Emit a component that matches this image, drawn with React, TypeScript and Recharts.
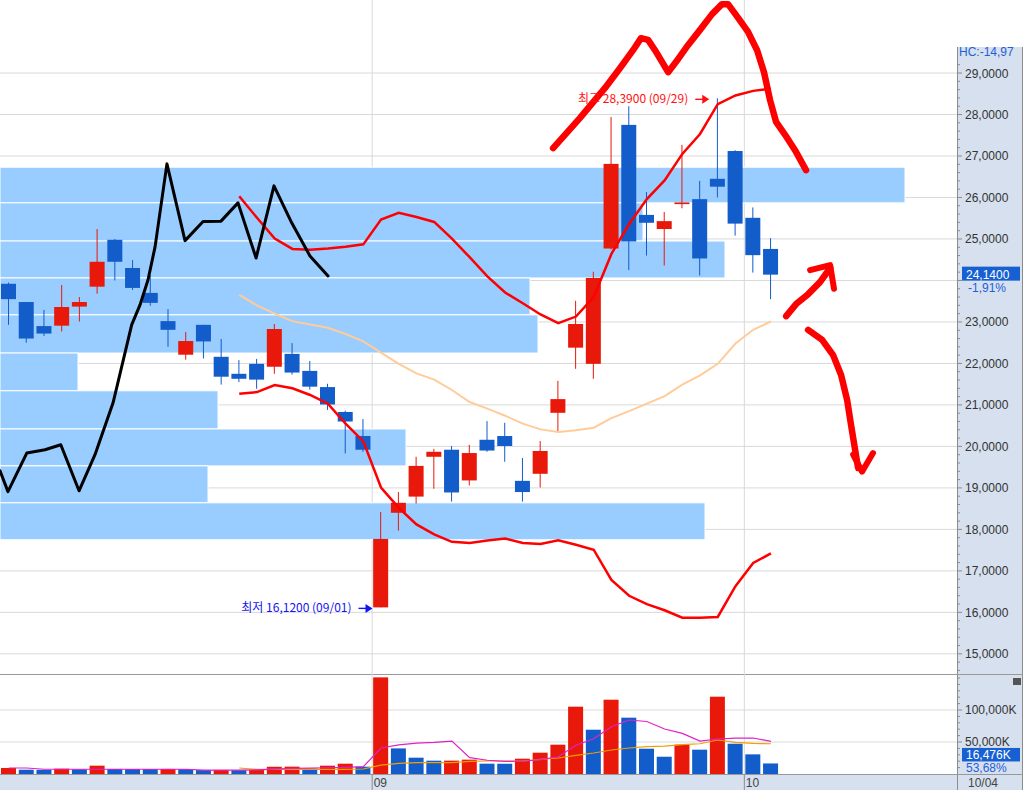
import React from "react";
import {
  ComposedChart,
  Bar,
  Line,
  XAxis,
  YAxis,
  CartesianGrid,
  ReferenceArea,
  ReferenceDot,
} from "recharts";

// trading days (2021)
const dates = [
  "08/03", "08/04", "08/05", "08/06", "08/09", "08/10", "08/11", "08/12", "08/13", "08/16", "08/17",
  "08/18", "08/19", "08/20", "08/23", "08/24", "08/25", "08/26", "08/27", "08/30", "08/31",
  "09/01", "09/02", "09/03", "09/07", "09/08", "09/09", "09/10", "09/13", "09/14", "09/15", "09/16",
  "09/17", "09/20", "09/21", "09/22", "09/23", "09/24", "09/27", "09/28", "09/29", "09/30",
  "10/01", "10/04",
];

const opens = [
  23.92, 23.48, 22.9, 22.91, 23.37, 23.85, 24.98, 24.3, 23.7, 23.02, 22.21, 22.93, 22.16, 21.75, 21.99,
  21.92, 22.23, 21.82, 21.43, 20.83, 20.25, 16.12, 18.4, 18.79, 19.75, 19.92, 19.18, 20.16, 20.25, 19.17,
  19.34, 20.81, 22.38, 21.99, 24.77, 27.75, 25.58, 25.24, 25.84, 25.96, 26.45, 27.12, 25.51, 24.76,
];
const highs = [
  23.95, 23.48, 23.29, 23.89, 23.6, 25.24, 25.0, 24.49, 24.13, 23.31, 22.76, 22.93, 22.59, 22.08, 22.11,
  22.95, 22.49, 22.06, 21.51, 20.86, 20.66, 18.42, 18.9, 19.75, 19.94, 20.01, 20.04, 20.61, 20.57, 19.72,
  20.13, 21.58, 23.51, 24.21, 27.94, 28.2, 26.13, 25.65, 27.27, 26.4, 28.39, 27.14, 25.76, 25.02,
];
const lows = [
  22.93, 22.5, 22.66, 22.77, 23.01, 23.68, 24.0, 23.77, 23.39, 22.4, 22.09, 22.12, 21.49, 21.55, 21.39,
  21.75, 21.73, 21.37, 20.88, 19.83, 19.87, 16.12, 17.97, 18.62, 18.98, 18.67, 19.06, 19.87, 19.63, 18.67,
  19.01, 20.33, 21.87, 21.63, 24.75, 24.25, 24.6, 24.36, 25.74, 24.12, 26.0, 25.08, 24.19, 23.55,
];
const closes = [
  23.55, 22.6, 22.72, 23.36, 23.48, 24.45, 24.45, 23.82, 23.46, 22.81, 22.54, 22.53, 21.68, 21.63, 21.61,
  22.83, 21.78, 21.44, 21.01, 20.6, 19.92, 17.77, 18.64, 19.53, 19.87, 18.89, 19.84, 19.9, 20.01, 18.9,
  19.89, 21.14, 22.95, 24.06, 26.81, 24.94, 25.39, 25.43, 25.88, 24.53, 26.26, 25.37, 24.61, 24.14,
];

// volume, K
const volumes = [
  9400, 6700, 6500, 8300, 7300, 13000, 7900, 7800, 7700, 7900, 7600, 6100, 6300, 6000, 6200, 11300, 11500,
  8300, 13000, 16100, 11400, 151000, 40000, 25500, 20800, 20900, 22400, 16100, 16000, 23900, 33300, 45800,
  105200, 69200, 116100, 88000, 39500, 27000, 45800, 38000, 120800, 47300, 30694, 16476,
];

const N13 = [null, null, null, null, null, null, null, null, null, null, null, null, null];

const bollUpper = [
  ...N13,
  26.03, 25.51, 25.01, 24.76, 24.74, 24.77, 24.81, 24.87, 25.47, 25.63, 25.53, 25.41, 25.01, 24.56, 24.1,
  23.71, 23.45, 23.18, 22.97, 23.13, 23.6, 24.64, 25.36, 25.96, 26.41, 27.05, 27.53, 28.25, 28.46, 28.57, 28.62,
];
const bollMid = [
  ...N13,
  23.65, 23.4, 23.2, 23.02, 22.94, 22.86, 22.71, 22.53, 22.26, 21.99, 21.76, 21.61, 21.36, 21.07, 20.91,
  20.74, 20.55, 20.41, 20.35, 20.39, 20.45, 20.68, 20.85, 21.03, 21.21, 21.49, 21.71, 21.99, 22.48, 22.81, 23.01,
];
const bollLower = [
  ...N13,
  21.27, 21.31, 21.48, 21.4, 21.24, 21.03, 20.55, 20.12, 19.01, 18.52, 18.12, 17.88, 17.7, 17.67, 17.73,
  17.78, 17.67, 17.65, 17.74, 17.63, 17.51, 16.78, 16.4, 16.2, 16.05, 15.87, 15.87, 15.89, 16.63, 17.19, 17.42,
];

const volMa5 = [
  9400, 9400, 7400, 7400, 7400, 7400, 7400, 7400, 7400, 7400, 7400, 6200, 6200, 6200, 6600, 7600, 8800,
  9200, 9800, 10400, 11400, 40600, 45500, 48300, 49300, 51500, 25500, 21500, 19800, 19900, 22400, 27000,
  44900, 55000, 73900, 84400, 82000, 70300, 63400, 51500, 54700, 56200, 56200, 51000,
];
const volMa20 = [
  ...N13,
  9400, 7200, 7200, 7200, 7200, 7200, 7200, 7800, 14000, 16600, 17700, 17700, 17700, 19700, 20300, 20300,
  20300, 22800, 25000, 29100, 32800, 37500, 40600, 42700, 43700, 45800, 47300, 53100, 49400, 47800, 47300,
];

// volume-at-price bands (price edges top→bottom, volume per band)
const profileEdges = [26.73, 25.87, 24.95, 24.06, 23.17, 22.25, 21.34, 20.42, 19.53, 18.64, 17.75];
const profileVolumes = [452500, 321500, 362500, 265000, 269000, 39000, 109000, 203000, 104000, 352500];

const priceLabels = [15, 16, 17, 18, 19, 20, 21, 22, 23, 24, 25, 26, 27, 28, 29];
const volLabels = [50000, 100000];
const hcValue = -14.97;

// hand drawn strokes: [slot, price]
const drawBlack = [
  [0, 19.41], [0.45, 18.91], [1.51, 19.84], [2.54, 19.92], [3.43, 20.04], [4.46, 18.93], [5.36, 19.8],
  [6.38, 21.05], [7.43, 22.93], [7.9, 23.41], [8.35, 24.01], [8.75, 24.81], [9.42, 26.81], [10.44, 24.96],
  [11.46, 25.42], [12.47, 25.43], [13.43, 25.87], [14.45, 24.54], [15.46, 26.28], [16.46, 25.39],
  [17.49, 24.59], [18.51, 24.11],
];
const drawArc = [
  [31.21, 27.19], [32.73, 27.92], [34.14, 28.64], [34.99, 29.12], [35.72, 29.55], [36.17, 29.84],
  [36.57, 29.8], [36.96, 29.55], [37.7, 29.02], [38.15, 29.27], [38.82, 29.67], [39.5, 30.04],
  [40.18, 30.42], [40.74, 30.66], [41.08, 30.66], [41.65, 30.33], [42.21, 29.99], [42.72, 29.55],
  [43.11, 29.02], [43.45, 28.35], [43.79, 27.82], [44.3, 27.51], [44.86, 27.14], [45.48, 26.66],
];
const drawUp = [[44.36, 23.14], [44.92, 23.43], [45.6, 23.67], [46.27, 23.96], [46.84, 24.3]];
const drawUpHead = [[45.71, 24.25], [46.84, 24.37], [47.06, 23.8]];
const drawDown = [
  [45.6, 22.81], [46.39, 22.57], [47.01, 22.2], [47.46, 21.72], [47.8, 21.12], [48.02, 20.52],
  [48.25, 19.92], [48.42, 19.48],
];
const drawDownHead = [[48.14, 19.8], [48.64, 19.39], [49.26, 19.84]];

const SLOTS = 54;
const PLOT_W = 957;
const SLOT_W = PLOT_W / SLOTS;
const P_DOMAIN = [14.49, 30.76];
const V_DOMAIN = [0, 154700];
const PROFILE_MAX = 478500;
const RED = "#e8190b";
const BLUE = "#135dcb";
const AXIS_BG = "#d6e0ee";
const FONT = "'Liberation Sans', Arial, sans-serif";
const KFONT = "'Noto Sans CJK KR', 'Noto Sans', sans-serif";

const rows = Array.from({ length: SLOTS }, (_, i) => {
  if (i >= dates.length) return { d: `+${i}` };
  return {
    d: dates[i],
    o: opens[i],
    h: highs[i],
    l: lows[i],
    c: closes[i],
    range: [lows[i], highs[i]],
    bu: bollUpper[i],
    bm: bollMid[i],
    bl: bollLower[i],
    v: volumes[i],
    vUp: i === 0 || volumes[i] > volumes[i - 1],
    m5: volMa5[i],
    m20: volMa20[i],
  };
});

// carrier rows so the volume-at-price axis gets a scale
const profileRows = profileVolumes.map((pv, i) => ({ pv, pm: (profileEdges[i] + profileEdges[i + 1]) / 2 }));

const monthStarts = dates
  .map((d, i) => (i > 0 && d.slice(0, 2) !== dates[i - 1].slice(0, 2) ? i : -1))
  .filter((i) => i >= 0);
const monthStartDates = monthStarts.map((i) => dates[i]);

const last = dates.length - 1;
const lastClose = closes[last];
const lastVol = volumes[last];
const hiIdx = highs.indexOf(Math.max(...highs));
const loIdx = lows.indexOf(Math.min(...lows));

const fmt4 = (v: number) => v.toFixed(4).replace(".", ",");
const fmtPct = (v: number) => v.toFixed(2).replace(".", ",") + "%";
const fmtK = (v: number) => Math.round(v).toLocaleString("en-US") + "K";

const priceTicks: number[] = [];
for (let k = 73; k <= 146; k++) priceTicks.push(k / 5);
priceTicks.push(lastClose);
const volTicks: number[] = [];
for (let k = 1; k <= 15; k++) volTicks.push(k * 10000);
volTicks.push(lastVol);

const pts = (a: number[][]) => a.map(([sx, py]) => ({ sx, py }));

function Candle(props: any) {
  const { x, y, width, height, payload } = props;
  if (!payload || payload.o == null) return null;
  const { o, h, l, c } = payload;
  const span = h - l || 1;
  const py = (v: number) => y + ((h - v) / span) * height;
  const color = c >= o ? RED : BLUE;
  const cx = x + width / 2;
  const top = py(Math.max(o, c));
  const bot = py(Math.min(o, c));
  return (
    <g>
      <rect x={cx - 0.5} y={y} width={1} height={height} fill={color} />
      <rect x={x} y={top} width={width} height={Math.max(bot - top, 1.6)} fill={color} />
    </g>
  );
}

function VolumeBar(props: any) {
  const { x, y, width, height, payload } = props;
  if (!payload || payload.v == null) return null;
  return <rect x={x} y={y} width={width} height={height} fill={payload.vUp ? RED : BLUE} />;
}

function PriceTick(props: any) {
  const { x, y, payload } = props;
  const v = Number(payload.value);
  if (v === lastClose) {
    const pct = ((lastClose - closes[last - 1]) / closes[last - 1]) * 100;
    return (
      <g fontFamily={FONT} fontSize={12}>
        <rect x={x + 5} y={y - 8} width={58} height={14} fill="#1660d2" />
        <text x={x + 9} y={y + 4} fill="#ffffff">{fmt4(v)}</text>
        <text x={x + 11} y={y + 17} fill="#1f5fd8">{fmtPct(pct)}</text>
      </g>
    );
  }
  // labels next to the current-price box are left out
  const major = priceLabels.includes(v) && Math.abs(v - lastClose) > 0.45;
  return (
    <g>
      <line x1={x} x2={x + (priceLabels.includes(v) ? 5 : 3)} y1={y} y2={y} stroke="#8c8c8c" />
      {major ? (
        <text x={x + 8} y={y + 4.5} fill="#333" fontSize={12} fontFamily={FONT}>
          {fmt4(v)}
        </text>
      ) : null}
    </g>
  );
}

function VolTick(props: any) {
  const { x, y, payload } = props;
  const v = Number(payload.value);
  if (v === lastVol) {
    const pct = (lastVol / volumes[last - 1]) * 100;
    return (
      <g fontFamily={FONT} fontSize={12}>
        <rect x={x + 5} y={y - 15.5} width={58} height={13.5} fill="#1660d2" />
        <text x={x + 9} y={y - 4.5} fill="#ffffff">{fmtK(v)}</text>
        <text x={x + 9} y={y + 8.5} fill="#1f5fd8">{fmtPct(pct)}</text>
      </g>
    );
  }
  const major = volLabels.includes(v);
  return (
    <g>
      <line x1={x} x2={x + (major ? 5 : 3)} y1={y} y2={y} stroke="#8c8c8c" />
      {major ? (
        <text x={x + 8} y={y + 4} fill="#333" fontSize={12} fontFamily={FONT}>
          {fmtK(v)}
        </text>
      ) : null}
    </g>
  );
}

function DateTick(props: any) {
  const { x, y, payload } = props;
  if (!monthStartDates.includes(payload.value)) return null;
  const left = x - SLOT_W / 2;
  return (
    <g>
      <line x1={left} x2={left} y1={y} y2={y + 16} stroke="#8c8c8c" />
      <text x={left + 1.5} y={y + 13} fill="#444" fontSize={12} fontFamily={FONT}>
        {String(payload.value).slice(0, 2)}
      </text>
    </g>
  );
}

const extremeMarker = (text: string, color: string) => (p: any) => {
  const { cx, cy } = p;
  const tip = cx - 8.5;
  return (
    <g>
      <text x={tip - 21} y={cy + 4.5} textAnchor="end" fill={color} fontSize={12} fontFamily={KFONT}>
        {text}
      </text>
      <line x1={tip - 14} x2={tip - 4} y1={cy + 1} y2={cy + 1} stroke={color} strokeWidth={1.4} />
      <path d={`M${tip},${cy + 1} L${tip - 7},${cy - 3.5} L${tip - 7},${cy + 5.5} Z`} fill={color} />
    </g>
  );
};

const drawProps = {
  xAxisId: "n",
  yAxisId: "p",
  dataKey: "py",
  dot: false,
  activeDot: false,
  isAnimationActive: false,
  strokeLinecap: "round" as const,
  strokeLinejoin: "round" as const,
  type: "linear" as const,
};

export default function App() {
  return (
    <div style={{ position: "absolute", left: 0, top: 0, width: 1027, height: 790, background: "#fff", overflow: "hidden" }}>
      {/* axis panels */}
      <div style={{ position: "absolute", left: 958, top: 47, width: 64, height: 743, background: AXIS_BG }} />
      <div style={{ position: "absolute", left: 0, top: 775, width: 958, height: 15, background: AXIS_BG }} />
      <div style={{ position: "absolute", left: 957, top: 47, width: 1, height: 743, background: "#8c8c8c" }} />
      <div style={{ position: "absolute", left: 1022, top: 47, width: 1, height: 743, background: "#8c8c8c" }} />
      <div style={{ position: "absolute", left: 0, top: 674, width: 1023, height: 1, background: "#999" }} />
      <div style={{ position: "absolute", left: 0, top: 774, width: 1023, height: 1, background: "#999" }} />
      <div
        style={{
          position: "absolute", left: 959, top: 45, fontFamily: FONT, fontSize: 12, color: "#1f5fd8", lineHeight: "14px",
        }}
      >
        {"HC:" + hcValue.toFixed(2).replace(".", ",")}
      </div>
      <div
        style={{
          position: "absolute", left: 968, top: 776, fontFamily: FONT, fontSize: 12, color: "#444", lineHeight: "14px",
        }}
      >
        {dates[last]}
      </div>
      <div style={{ position: "absolute", left: 1013, top: 678, width: 8, height: 7, background: "#555" }} />

      <div style={{ position: "absolute", left: 0, top: 0 }}>
        <ComposedChart width={1027} height={675} data={rows} margin={{ top: 0, right: 0, bottom: 0, left: 0 }}>
          <XAxis xAxisId="c" dataKey="d" hide />
          <XAxis xAxisId="n" type="number" dataKey="sx" domain={[0, SLOTS]} allowDataOverflow hide />
          <XAxis xAxisId="vp" type="number" dataKey="pv" domain={[0, PROFILE_MAX]} allowDataOverflow hide />
          <YAxis
            yAxisId="p"
            orientation="right"
            width={70}
            type="number"
            domain={P_DOMAIN}
            allowDataOverflow
            ticks={priceTicks}
            interval={0}
            tick={<PriceTick />}
            tickLine={false}
            axisLine={false}
            tickSize={0}
            tickMargin={0}
          />
          <CartesianGrid
            xAxisId="n"
            yAxisId="p"
            horizontalValues={priceLabels}
            verticalValues={monthStarts}
            stroke="#d9d9d9"
          />
          <Line
            xAxisId="vp"
            yAxisId="p"
            data={profileRows}
            dataKey="pm"
            stroke="none"
            dot={false}
            activeDot={false}
            isAnimationActive={false}
          />
          {profileVolumes.map((vol, i) => (
            <ReferenceArea
              key={i}
              xAxisId="vp"
              yAxisId="p"
              x1={0}
              x2={vol}
              y1={profileEdges[i + 1]}
              y2={profileEdges[i]}
              fill="#99ccff"
              fillOpacity={1}
              stroke="#ffffff"
              strokeWidth={1}
              ifOverflow="visible"
            />
          ))}
          <Bar xAxisId="c" yAxisId="p" dataKey="range" barSize={15} shape={(p: any) => <Candle {...p} />} isAnimationActive={false} />
          <Line xAxisId="c" yAxisId="p" dataKey="bm" stroke="#ffcc99" strokeWidth={2} dot={false} activeDot={false} isAnimationActive={false} />
          <Line xAxisId="c" yAxisId="p" dataKey="bu" stroke="#ff0000" strokeWidth={2.5} dot={false} activeDot={false} isAnimationActive={false} />
          <Line xAxisId="c" yAxisId="p" dataKey="bl" stroke="#ff0000" strokeWidth={2.5} dot={false} activeDot={false} isAnimationActive={false} />
          <Line {...drawProps} data={pts(drawBlack)} stroke="#000000" strokeWidth={3} />
          <Line {...drawProps} data={pts(drawArc)} stroke="#ff0000" strokeWidth={6.5} />
          <Line {...drawProps} data={pts(drawUp)} stroke="#ff0000" strokeWidth={6.5} />
          <Line {...drawProps} data={pts(drawUpHead)} stroke="#ff0000" strokeWidth={6} />
          <Line {...drawProps} data={pts(drawDown)} stroke="#ff0000" strokeWidth={6.5} />
          <Line {...drawProps} data={pts(drawDownHead)} stroke="#ff0000" strokeWidth={6} />
          <ReferenceDot
            xAxisId="c"
            yAxisId="p"
            x={dates[hiIdx]}
            y={highs[hiIdx]}
            r={0}
            shape={extremeMarker(`최고 ${fmt4(highs[hiIdx])} (${dates[hiIdx]})`, "#ff1010")}
          />
          <ReferenceDot
            xAxisId="c"
            yAxisId="p"
            x={dates[loIdx]}
            y={lows[loIdx]}
            r={0}
            shape={extremeMarker(`최저 ${fmt4(lows[loIdx])} (${dates[loIdx]})`, "#1414f0")}
          />
        </ComposedChart>
      </div>

      <div style={{ position: "absolute", left: 0, top: 675 }}>
        <ComposedChart width={1027} height={115} data={rows} margin={{ top: 0, right: 0, bottom: 0, left: 0 }}>
          <XAxis
            xAxisId="c"
            dataKey="d"
            height={16}
            interval={0}
            tick={<DateTick />}
            tickLine={false}
            axisLine={false}
            tickSize={0}
            tickMargin={0}
          />
          <XAxis xAxisId="n" type="number" dataKey="sx" domain={[0, SLOTS]} allowDataOverflow hide />
          <YAxis
            yAxisId="v"
            orientation="right"
            width={70}
            type="number"
            domain={V_DOMAIN}
            allowDataOverflow
            ticks={volTicks}
            interval={0}
            tick={<VolTick />}
            tickLine={false}
            axisLine={false}
            tickSize={0}
            tickMargin={0}
          />
          <CartesianGrid
            xAxisId="n"
            yAxisId="v"
            horizontalValues={volLabels}
            verticalValues={monthStarts}
            stroke="#d9d9d9"
          />
          <Bar xAxisId="c" yAxisId="v" dataKey="v" barSize={15} shape={(p: any) => <VolumeBar {...p} />} isAnimationActive={false} />
          <Line xAxisId="c" yAxisId="v" dataKey="m20" stroke="#f0a000" strokeWidth={1.2} dot={false} activeDot={false} isAnimationActive={false} />
          <Line xAxisId="c" yAxisId="v" dataKey="m5" stroke="#e020c8" strokeWidth={1.2} dot={false} activeDot={false} isAnimationActive={false} />
        </ComposedChart>
      </div>
    </div>
  );
}
